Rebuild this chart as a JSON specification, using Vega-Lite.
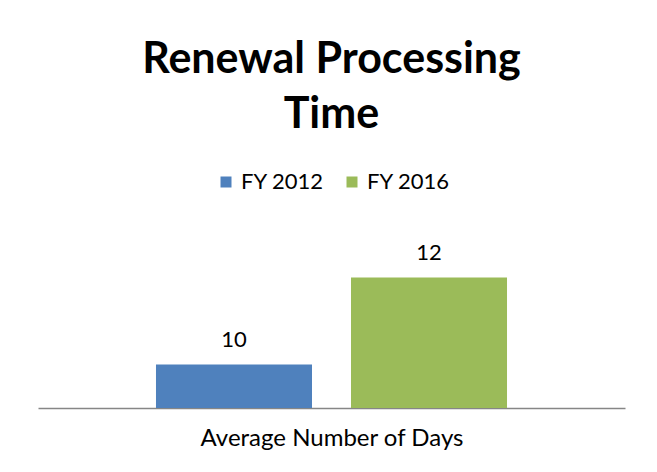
{
  "$schema": "https://vega.github.io/schema/vega-lite/v6.json",
  "autosize": "none",
  "width": 587,
  "height": 174,
  "padding": {"left": 38, "top": 234, "right": 32, "bottom": 64},
  "background": "white",
  "config": {
    "view": {"stroke": null},
    "font": "Lato"
  },
  "title": {
    "text": ["Renewal Processing", "Time"],
    "font": "Lato",
    "fontSize": 43,
    "fontWeight": "bold",
    "color": "#000000",
    "lineHeight": 55,
    "anchor": "middle",
    "frame": "group",
    "offset": 34
  },
  "data": {
    "values": [
      {"category": "Average Number of Days", "series": "FY 2012", "days": 10},
      {"category": "Average Number of Days", "series": "FY 2016", "days": 12}
    ]
  },
  "encoding": {
    "x": {
      "field": "series",
      "type": "nominal",
      "scale": {"paddingInner": 0.2, "paddingOuter": 0.605},
      "axis": {
        "title": "Average Number of Days",
        "labels": false,
        "ticks": false,
        "domainColor": "#868686",
        "domainWidth": 1.3,
        "titleFont": "Lato",
        "titleFontSize": 24,
        "titleFontWeight": "normal",
        "titleColor": "#000000",
        "titlePadding": 18
      }
    }
  },
  "layer": [
    {
      "mark": {"type": "bar"},
      "encoding": {
        "y": {
          "field": "days",
          "type": "quantitative",
          "scale": {"domain": [9, 13], "zero": false, "nice": false},
          "axis": null
        },
        "y2": {"datum": 9},
        "color": {
          "field": "series",
          "type": "nominal",
          "scale": {"domain": ["FY 2012", "FY 2016"], "range": ["#4F81BD", "#9BBB59"]},
          "legend": {
            "title": null,
            "orient": "none",
            "direction": "horizontal",
            "legendX": 177,
            "legendY": -63,
            "symbolType": "square",
            "symbolSize": 121,
            "symbolStrokeWidth": 0,
            "labelFont": "Lato",
            "labelFontSize": 22,
            "labelColor": "#000000",
            "columnPadding": 17,
            "labelOffset": 4
          }
        }
      }
    },
    {
      "mark": {"type": "text", "dy": -18, "baseline": "alphabetic", "fontSize": 22, "font": "Lato", "color": "#000000"},
      "encoding": {
        "y": {"field": "days", "type": "quantitative"},
        "text": {"field": "days", "type": "quantitative"}
      }
    }
  ]
}
